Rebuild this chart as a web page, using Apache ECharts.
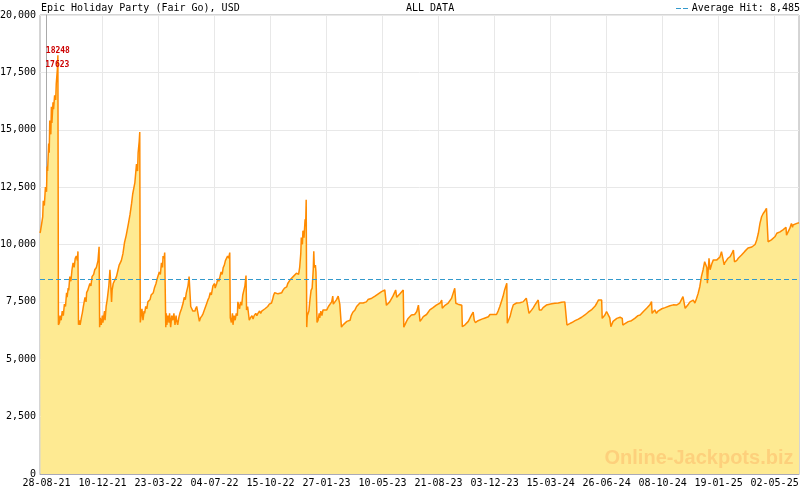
<!DOCTYPE html>
<html>
<head>
<meta charset="utf-8">
<script src="https://cdn.jsdelivr.net/npm/echarts@6/dist/echarts.min.js"></script>
<style>
html,body{margin:0;padding:0;background:#fff;}
#chart{width:800px;height:490px;}
</style>
</head>
<body>
<div id="chart"></div>
<script>
// ---- data ----
const chartTitle = 'Epic Holiday Party (Fair Go), USD';
const rangeTitle = 'ALL DATA';
const watermark = 'Online-Jackpots.biz';
const averageHit = 8485;
const xTickLabels = ['28-08-21','10-12-21','23-03-22','04-07-22','15-10-22','27-01-23','10-05-23',
  '21-08-23','03-12-23','15-03-24','26-06-24','08-10-24','19-01-25','02-05-25'];
const firstTickToLastTickDays = 1343;
const minorTicksPerLabel = 7;
const xMinDay = -12, xMaxDay = 1388;
const peakDays = [21, 20];
const peakValues = [18248, 17623];
// [days since 28-08-21, jackpot value USD]
const hits = [
[-12,10500],[-11,10600],[-9,10900],[-7,11200],[-6,11900],[-4,11700],[-2,12500],[0,12300],[1,13400],[2,13200],[4,14400],[5,14000],[6,15400],[8,14800],[9,16000],[10,15300],[12,16200],[13,15900],[15,16500],[17,16300],[18,17000],[20,17623],[21,18248],[22,6500],
[24,6600],[25,6900],[27,6700],[29,7100],[31,6900],[33,7400],[35,7300],[37,7900],[38,7700],[40,8100],[41,8000],[43,8600],[45,8400],[47,8900],[49,9200],[51,9000],[53,9400],[55,9500],[57,9300],[58,9700],[59,6500],
[61,6700],[62,6500],[65,6900],[66,7000],[68,7300],[71,7700],[73,7500],[74,7900],[76,8000],[80,8300],[82,8200],[84,8600],[87,8700],[89,8900],[92,9000],[95,9300],[97,9900],[98,6400],
[99,6800],[101,6500],[103,6900],[104,6600],[107,7100],[108,6700],[110,7300],[112,7600],[114,8000],[115,8200],[117,8900],[118,8500],[120,7500],[121,8000],[123,8300],[126,8300],[129,8600],[132,8900],[134,9100],[138,9300],[141,9600],[144,10100],[147,10400],[151,10900],[154,11300],[157,11800],[159,12200],[163,12700],[166,13500],[168,13200],[169,14000],[171,14500],[172,14900],[173,6600],
[174,6800],[176,7200],[178,6700],[180,7100],[181,7000],[183,7300],[185,7200],[187,7500],[191,7600],[193,7800],[197,7900],[199,8100],[202,8300],[204,8500],[206,8450],[208,8800],[210,8700],[212,9200],[214,9000],[215,9500],[217,9400],[218,9650],[220,6400],
[221,7000],[222,6500],[224,6900],[226,6600],[227,7000],[229,6400],[231,6900],[233,6700],[235,7000],[237,6500],[239,6900],[240,6700],[242,6500],[244,6800],[246,7000],[249,7200],[252,7450],[254,7700],[256,7600],[258,7900],[261,8200],[263,8600],[265,8650],[266,7300],
[268,7200],[270,7100],[274,7100],[275,7200],[277,7300],[280,7250],[282,6650],[284,6800],[287,6900],[289,7000],[292,7200],[295,7400],[298,7600],[300,7700],[302,7900],[304,7800],[307,8200],[310,8300],[311,8100],[314,8300],[316,8500],[318,8400],[320,8600],[322,8800],[324,8700],[326,9000],[328,9100],[330,9300],[332,9350],[334,9500],[336,9400],[338,9650],[339,6800],
[341,6600],[343,7000],[344,6500],[346,6900],[348,6700],[350,7000],[352,6900],[353,7500],[356,7200],[358,7500],[360,7350],[362,7800],[366,8200],[368,8650],[369,7150],[371,7300],[374,6700],[376,6800],[379,6900],[381,6750],[383,6900],[386,7000],[388,6900],[390,7000],[393,7100],[395,7000],[397,7100],[400,7150],[403,7200],[406,7200],[408,7300],[411,7400],[415,7450],[417,7600],[419,7800],[421,7900],[424,7850],[427,7850],[430,7900],[434,7900],[436,8000],[439,8100],[443,8150],[445,8300],[447,8250],[449,8450],[452,8400],[455,8600],[457,8550],[461,8750],[464,8800],[465,8700],[467,9000],[469,9600],[470,10300],[472,10000],[473,10600],[475,10300],[477,11100],[478,10800],[479,11950],[480,6400],
[481,6900],[483,6850],[484,7100],[486,7600],[488,8000],[490,8100],[492,8900],[493,9700],[494,9000],[496,9100],[497,8800],[499,6600],
[501,6700],[503,7000],[504,6800],[506,7100],[508,6900],[510,7150],[513,7150],[517,7150],[520,7300],[522,7250],[526,7500],[528,7750],[529,7400],[532,7500],[535,7600],[538,7750],[540,7700],[541,7400],[543,7350],[544,6400],
[547,6500],[550,6550],[554,6650],[560,6700],[562,6900],[565,7050],[569,7150],[572,7300],[575,7350],[578,7450],[581,7450],[584,7450],[587,7500],[590,7500],[593,7600],[596,7650],[600,7660],[603,7700],[606,7750],[609,7800],[612,7850],[615,7900],[618,7950],[621,8000],[624,8020],[626,8050],[627,7350],
[630,7400],[633,7500],[636,7550],[639,7750],[642,7900],[644,8020],[646,7700],[649,7750],[652,7850],[655,7900],[658,8020],[659,6400],
[661,6500],[664,6650],[667,6780],[670,6850],[673,6930],[676,6930],[679,6950],[683,7080],[686,7360],[687,7400],[689,6650],
[692,6750],[695,6860],[698,6900],[701,6950],[704,7050],[707,7150],[710,7200],[713,7250],[716,7300],[719,7360],[722,7400],[726,7450],[729,7580],[730,7220],
[732,7250],[735,7350],[738,7400],[741,7450],[744,7510],[747,7650],[750,7870],[753,8090],[755,7440],[757,7420],[759,7400],[762,7380],[766,7350],[767,6420],
[772,6500],[775,6550],[778,6650],[781,6700],[784,6930],[786,6850],[787,7050],[789,6700],[791,6600],[793,6650],[796,6680],[799,6710],
[803,6750],[805,6680],[809,6800],[812,6850],[815,6850],[818,6950],[821,6880],[824,6950],[827,7000],[830,6950],[833,7100],[836,7290],[839,7510],[842,7730],[845,8020],[849,8310],[850,6570],
[852,6650],[855,6860],[858,7150],[861,7370],[864,7420],[867,7450],[870,7510],[873,7460],[876,7450],[879,7500],[882,7510],[885,7660],[888,7730],[890,7000],
[892,7050],[895,7150],[898,7250],[901,7370],[904,7440],[907,7580],[909,7150],
[913,7150],[916,7250],[919,7330],[922,7360],[925,7400],[928,7400],[932,7420],[935,7440],[938,7440],[941,7420],[944,7450],[947,7510],[950,7480],[953,7450],[956,7500],[959,7510],[960,6490],
[962,6500],[965,6550],[969,6600],[971,6640],[975,6680],[978,6710],[981,6750],[984,6790],[987,6830],[990,6860],[993,6930],[996,7000],[999,7050],[1002,7080],[1005,7150],[1008,7220],[1012,7320],[1015,7440],[1018,7580],[1024,7580],[1025,6780],
[1027,6850],[1030,6930],[1033,7080],[1036,7000],[1039,6800],[1041,6420],[1043,6500],[1045,6650],[1048,6700],[1052,6780],[1055,6850],[1058,6830],[1061,6800],[1062,6780],[1063,6490],
[1067,6550],[1070,6580],[1073,6640],[1076,6650],[1079,6680],[1082,6710],[1085,6780],[1088,6860],[1091,6900],[1095,6930],[1098,7000],[1101,7080],[1104,7150],[1107,7220],[1110,7290],[1113,7370],[1116,7510],[1117,7000],
[1119,7050],[1122,7150],[1125,7000],[1128,7100],[1131,7150],[1135,7200],[1138,7250],[1141,7250],[1144,7290],[1150,7330],[1156,7370],[1162,7360],[1165,7400],[1168,7450],[1171,7510],[1174,7730],[1176,7750],[1178,7220],
[1181,7300],[1184,7400],[1187,7500],[1190,7580],[1193,7580],[1196,7450],[1199,7650],[1202,7870],[1205,8160],[1208,8600],[1211,8890],[1214,9250],[1218,9000],[1219,8310],[1222,9400],[1224,8900],[1227,9150],[1230,9330],[1233,9350],[1236,9320],[1239,9400],[1242,9450],[1245,9690],[1248,9760],[1250,9110],
[1251,9200],[1254,9300],[1257,9400],[1261,9470],[1264,9600],[1267,9760],[1269,9250],
[1273,9300],[1276,9400],[1279,9450],[1282,9540],[1285,9600],[1288,9700],[1291,9760],[1294,9850],[1297,9880],[1301,9890],[1304,9900],[1307,10000],[1310,10200],[1313,10490],[1316,10920],[1319,11210],[1322,11350],[1325,11450],[1328,11575],[1330,11650],[1331,10120],
[1334,10150],[1337,10200],[1340,10270],[1344,10350],[1347,10490],[1350,10500],[1353,10550],[1356,10600],[1359,10650],[1362,10700],[1364,10750],[1365,10410],
[1368,10450],[1371,10700],[1374,10920],[1376,10750],[1377,10850],[1380,10900],[1384,10920],[1388,10950]
];

// ---- chart ----
const MAJOR = firstTickToLastTickDays / (xTickLabels.length - 1);
const MINOR = MAJOR / minorTicksPerLabel;
const majorTickDays = xTickLabels.map((_, i) => i * MAJOR);
const minorTickDays = [];
for (let k = Math.ceil(xMinDay / MINOR); k * MINOR <= xMaxDay; k++) minorTickDays.push(k * MINOR);

const MONO = '"DejaVu Sans Mono", monospace';
const chart = echarts.init(document.getElementById('chart'), null, {renderer: 'canvas'});

function xLabel(v) {
  const idx = Math.round(v / MAJOR);
  if (Math.abs(v - idx * MAJOR) > 1) return '';
  return xTickLabels[idx] || '';
}

const option = {
  animation: false,
  backgroundColor: '#ffffff',
  grid: {left: 40, right: 1, top: 15, bottom: 16, containLabel: false, outerBoundsMode: 'none',
         show: true, borderColor: '#aaaaaa', borderWidth: 1, backgroundColor: 'transparent'},
  xAxis: [{
    type: 'value', min: xMinDay, max: xMaxDay,
    axisLine: {show: true, lineStyle: {color: '#aaaab8', width: 1}},
    axisTick: {show: true, inside: true, length: 5, lineStyle: {color: '#a0a0b8'}, customValues: majorTickDays},
    splitLine: {show: true, lineStyle: {color: '#e8e8e8', width: 1}},
    axisLabel: {customValues: majorTickDays, formatter: xLabel, fontFamily: MONO, fontSize: 10, color: '#000', margin: 4}
  }, {
    type: 'value', min: xMinDay, max: xMaxDay, position: 'bottom',
    axisLine: {show: false},
    axisTick: {show: true, inside: true, length: 3, lineStyle: {color: '#a0a0b8'}, customValues: minorTickDays},
    splitLine: {show: false},
    axisLabel: {show: false}
  }],
  yAxis: {
    type: 'value', min: 0, max: 20000, interval: 2500,
    axisLine: {show: true, lineStyle: {color: '#aaaaaa'}},
    axisTick: {show: false},
    splitLine: {show: true, lineStyle: {color: '#e8e8e8', width: 1}},
    axisLabel: {formatter: v => v.toLocaleString('en-US'), fontFamily: MONO, fontSize: 10, color: '#000', margin: 4}
  },
  series: [{
    type: 'line', xAxisIndex: 0, data: hits, symbol: 'none', showSymbol: false,
    lineStyle: {color: '#ff8a00', width: 1.5},
    areaStyle: {color: '#feea92', opacity: 1},
    markLine: {
      silent: true, symbol: ['none', 'none'],
      label: {show: false},
      lineStyle: {color: '#3399cc', type: [5, 3], width: 1.2},
      data: [{yAxis: averageHit}]
    },
    markPoint: {
      symbol: 'circle', symbolSize: 1,
      itemStyle: {color: 'rgba(0,0,0,0)'},
      label: {show: true, position: 'top', distance: 0, color: '#cc0000', fontFamily: MONO, fontSize: 8, fontWeight: 'bold', formatter: p => String(p.value)},
      data: peakDays.map((d, i) => ({coord: [d, peakValues[i]], value: peakValues[i]}))
    }
  }],
  graphic: [
    {type: 'text', x: 41, y: 8, style: {text: chartTitle, font: '10px ' + MONO, fill: '#000', verticalAlign: 'middle', align: 'left'}},
    {type: 'text', x: 406, y: 8, style: {text: rangeTitle, font: '10px ' + MONO, fill: '#000', verticalAlign: 'middle', align: 'left'}},
    {type: 'line', shape: {x1: 676, y1: 8.5, x2: 689, y2: 8.5}, style: {stroke: '#3399cc', lineWidth: 1, lineDash: [5, 2]}},
    {type: 'text', x: 800, y: 8, style: {text: 'Average Hit: ' + averageHit.toLocaleString('en-US'), font: '10px ' + MONO, fill: '#000', verticalAlign: 'middle', align: 'right'}},
    {type: 'text', x: 699, y: 458, z: 100, style: {text: watermark, font: 'bold 20px "Liberation Sans", Arial, sans-serif', fill: '#fdd07c', verticalAlign: 'middle', align: 'center'}}
  ]
};
chart.setOption(option);
</script>
</body>
</html>
